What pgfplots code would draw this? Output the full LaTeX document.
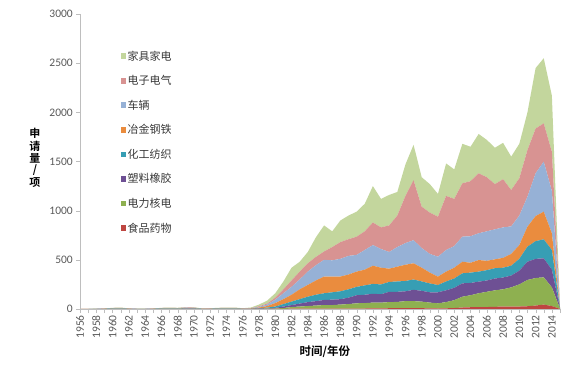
\documentclass[border=0pt]{standalone}
\usepackage{fontspec}
\setmainfont{Carlito}
\newfontfamily\cjk{Noto Sans CJK SC}
\newfontfamily\cjkb{Noto Sans CJK SC Bold}
\usepackage{pgfplots}
\pgfplotsset{compat=1.18}
\usepackage{pgfplotstable}
\definecolor{cFood}{RGB}{190,70,65}
\definecolor{cPower}{RGB}{142,176,80}
\definecolor{cPlastic}{RGB}{110,80,148}
\definecolor{cChem}{RGB}{55,158,180}
\definecolor{cMetal}{RGB}{234,140,62}
\definecolor{cVehicle}{RGB}{150,177,214}
\definecolor{cElec}{RGB}{216,147,146}
\definecolor{cFurn}{RGB}{195,214,157}
\definecolor{axisgray}{RGB}{190,190,190}
\definecolor{labgray}{RGB}{89,89,89}

\pgfplotstableread{
year food power plastic chem metal vehicle elec furn
1956 0 0 0 0 1 0 0 1
1957 0 0 0 0 1 0 0 1
1958 0 0 0 1 1 0 0 1
1959 0 0 1 1 1 1 0 1
1960 0 1 1 2 2 2 2 2
1961 0 1 1 2 3 2 3 3
1962 0 0 1 1 1 1 1 1
1963 0 0 0 1 1 0 0 1
1964 0 0 0 1 1 0 0 1
1965 0 0 1 1 1 1 0 1
1966 0 1 1 2 2 2 2 2
1967 0 1 1 2 3 2 3 3
1968 0 1 1 2 2 2 2 2
1969 0 1 2 3 4 3 3 4
1970 0 1 2 3 3 3 3 3
1971 0 0 1 1 1 1 0 1
1972 0 0 1 1 2 1 1 2
1973 0 1 1 2 2 2 2 2
1974 0 1 1 2 3 2 3 3
1975 0 1 1 2 3 2 3 3
1976 0 0 1 1 2 1 1 2
1977 0 0 0 2 3 2 2 6
1978 1 1 2 4 7 7 6 17
1979 1 2 3 8 16 15 10 30
1980 2 3 7 13 35 35 20 45
1981 2 8 15 25 50 60 40 80
1982 3 17 20 35 70 80 65 130
1983 3 22 30 45 100 100 80 100
1984 4 26 40 55 120 135 85 115
1985 4 31 45 65 145 155 85 200
1986 5 35 52 68 170 170 85 265
1987 5 35 55 75 160 165 135 160
1988 5 40 55 80 150 180 170 220
1989 5 45 65 85 150 190 170 240
1990 5 53 82 85 155 170 185 255
1991 5 55 85 95 160 200 190 280
1992 6 59 90 100 185 210 230 370
1993 6 59 85 100 170 190 220 290
1994 8 62 105 100 135 170 270 310
1995 8 64 103 105 150 200 320 240
1996 8 72 100 105 165 220 480 320
1997 10 70 115 105 165 235 610 360
1998 8 67 110 95 140 200 420 300
1999 7 58 105 90 110 190 420 290
2000 5 53 112 74 85 203 407 231
2001 7 63 120 90 100 220 550 330
2002 10 80 125 95 110 220 480 300
2003 15 110 136 102 118 255 542 402
2004 18 122 125 105 100 270 560 350
2005 20 140 118 102 118 272 610 400
2006 20 155 115 105 95 300 550 380
2007 22 168 120 105 90 305 460 370
2008 25 175 120 100 100 310 490 370
2009 25 195 120 100 120 280 370 340
2010 25 225 140 120 140 300 380 350
2011 28 267 186 153 203 305 475 383
2012 35 280 195 180 255 435 455 615
2013 45 277 193 194 281 508 390 662
2014 30 190 180 200 170 430 400 570
2015 1 2 2 2 2 3 3 5
}\data

\begin{document}
\begin{tikzpicture}[x=1bp,y=1bp]
\useasboundingbox (0,0) rectangle (569,364);
\begin{axis}[
  at={(80bp,55bp)}, anchor=south west,
  scale only axis, width=480bp, height=295bp,
  xmin=1956, xmax=2015, ymin=0, ymax=3000,
  stack plots=y, area style,
  axis lines=left,
  axis line style={draw=axisgray, -},
  xtick={1956,1958,...,2014},
  minor xtick={1957,1959,...,2015},
  ytick={0,500,...,3000},
  tick style={draw=axisgray},
  major tick length=4bp, minor tick length=4bp,
  tick align=outside,
  /pgf/number format/1000 sep={},
  /pgf/number format/assume math mode=true,
  tick label style={font=\fontsize{11.5bp}{13bp}\selectfont, text=labgray},
  xticklabel style={rotate=90, anchor=east, inner sep=2bp},
  yticklabel style={inner sep=3bp},
  xlabel={\cjkb 时间/年份},
  xlabel style={at={(axis description cs:0.51,-0.146)}, anchor=center, font=\fontsize{11.5bp}{13bp}\selectfont, text=black},
  ylabel={\cjkb\shortstack{申\\[-1bp]请\\[-1bp]量\\[-1bp]/\\[-1bp]项}},
  ylabel style={at={(axis description cs:-0.094,0.512)}, anchor=center, rotate=-90, font=\fontsize{11bp}{12bp}\selectfont, text=black},
  legend style={at={(axis description cs:0.078,0.888)}, anchor=north west, draw=none, fill=none,
    font=\cjk\fontsize{11bp}{13bp}\selectfont, text=black!78, row sep=10.8bp,
    nodes={inner sep=1.5bp}},
  legend cell align=left,
  reverse legend,
  legend image code/.code={\fill[#1] (0bp,-2.8bp) rectangle (5.6bp,2.8bp);},
]
\addplot[fill=cFood, draw=none] table[x=year,y=food]{\data} \closedcycle;
\addlegendentry{食品药物}
\addplot[fill=cPower, draw=none] table[x=year,y=power]{\data} \closedcycle;
\addlegendentry{电力核电}
\addplot[fill=cPlastic, draw=none] table[x=year,y=plastic]{\data} \closedcycle;
\addlegendentry{塑料橡胶}
\addplot[fill=cChem, draw=none] table[x=year,y=chem]{\data} \closedcycle;
\addlegendentry{化工纺织}
\addplot[fill=cMetal, draw=none] table[x=year,y=metal]{\data} \closedcycle;
\addlegendentry{冶金钢铁}
\addplot[fill=cVehicle, draw=none] table[x=year,y=vehicle]{\data} \closedcycle;
\addlegendentry{车辆}
\addplot[fill=cElec, draw=none] table[x=year,y=elec]{\data} \closedcycle;
\addlegendentry{电子电气}
\addplot[fill=cFurn, draw=none] table[x=year,y=furn]{\data} \closedcycle;
\addlegendentry{家具家电}
\end{axis}
\end{tikzpicture}
\end{document}
